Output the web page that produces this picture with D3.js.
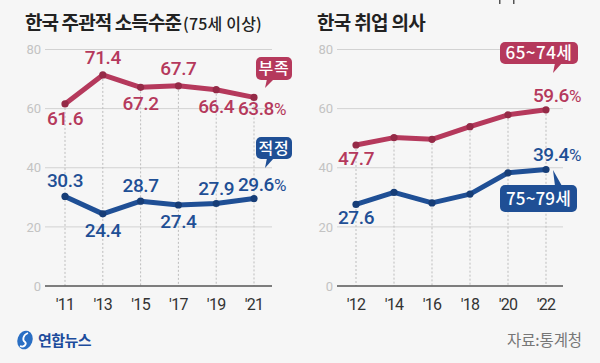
<!DOCTYPE html>
<html><head><meta charset="utf-8">
<script src="https://cdn.jsdelivr.net/npm/d3@7"></script>
<style>
html,body{margin:0;padding:0;background:#f6f6f6;}
svg{display:block;}
</style></head>
<body>
<script>
// ---- data ----
const yearsL = [2011, 2013, 2015, 2017, 2019, 2021];
const tickLabelsL = ["'11", "'13", "'15", "'17", "'19", "'21"];
const lackL = [61.6, 71.4, 67.2, 67.7, 66.4, 63.8];      // 부족
const properL = [30.3, 24.4, 28.7, 27.4, 27.9, 29.6];    // 적정

const yearsR = [2012, 2014, 2016, 2018, 2020, 2022];
const tickLabelsR = ["'12", "'14", "'16", "'18", "'20", "'22"];
const age6574 = [47.7, 50.2, 49.6, 53.9, 57.9, 59.6];
const age7579 = [27.6, 31.7, 28.1, 31.1, 38.3, 39.4];
const yTicks = [0, 20, 40, 60, 80];

const RED = "#b5395c", RED_D = "#952a47";
const BLUE = "#1f4f95", BLUE_D = "#163d77";
const W = 600, H = 363;

const svg = d3.select("body").append("svg").attr("width", W).attr("height", H);
svg.append("rect").attr("width", W).attr("height", H).attr("fill", "#f6f6f6");

const numFont = "Roboto, 'Noto Sans', sans-serif";
const korFont = "'Noto Sans CJK KR', 'Noto Sans', sans-serif";

// scale a text's font-size so that its rendered width matches a target width
function fit(sel, target) {
  const w = sel.node().getComputedTextLength();
  const fs = parseFloat(sel.attr("font-size"));
  if (w > 0) sel.attr("font-size", (fs * target / w).toFixed(2));
  return sel;
}
// keep the font-size, adjust letter-spacing to reach a target width
function fitSpacing(sel, target, minLs) {
  sel.attr("letter-spacing", 0);
  const w = sel.node().getComputedTextLength();
  const n = sel.text().length;
  let ls = (target - w) / n;
  if (ls < minLs) {
    sel.attr("letter-spacing", minLs);
    fit(sel, target);
  } else sel.attr("letter-spacing", ls.toFixed(2));
  return sel;
}

function panel(opt) {
  const x = d3.scaleLinear().domain(d3.extent(opt.years)).range(opt.xr);
  const y = d3.scaleLinear().domain([0, 80]).range([286, 49.5]);
  const g = svg.append("g");
  g.selectAll(".grid").data(yTicks.filter(d => d > 0)).join("line")
    .attr("x1", opt.gx[0]).attr("x2", opt.gx[1])
    .attr("y1", d => y(d)).attr("y2", d => y(d))
    .attr("stroke", "#d2d2d2").attr("stroke-width", 1);
  g.selectAll(".yt").data(yTicks).join("text")
    .attr("x", opt.gx[0] - 4).attr("y", d => y(d)).attr("dy", "0.36em")
    .attr("text-anchor", "end").attr("font-family", numFont).attr("font-size", 13)
    .attr("fill", "#c3c3c3").text(d => d);
  g.selectAll(".dv").data(opt.years).join("line")
    .attr("x1", d => x(d)).attr("x2", d => x(d))
    .attr("y1", (d, i) => y(opt.top[i]) + 4).attr("y2", y(0))
    .attr("stroke", "#bdbdbd").attr("stroke-width", 1).attr("stroke-dasharray", "2,2");
  g.append("line").attr("x1", opt.gx[0]).attr("x2", opt.gx[1])
    .attr("y1", y(0)).attr("y2", y(0)).attr("stroke", "#555").attr("stroke-width", 1.3);
  g.selectAll(".xt").data(opt.years).join("text")
    .attr("x", d => x(d)).attr("y", 310).attr("text-anchor", "middle")
    .attr("font-family", numFont).attr("font-size", 16).attr("letter-spacing", -0.7)
    .attr("fill", "#333").text((d, i) => opt.tickLabels[i]);
  const line = d3.line().x((d, i) => x(opt.years[i])).y(d => y(d));
  opt.series.forEach(s => {
    g.append("path").datum(s.values).attr("d", line).attr("fill", "none")
      .attr("stroke", s.color).attr("stroke-width", 5)
      .attr("stroke-linejoin", "round").attr("stroke-linecap", "round");
    g.selectAll(null).data(s.values).join("circle")
      .attr("cx", (d, i) => x(opt.years[i])).attr("cy", d => y(d)).attr("r", 3.6)
      .attr("fill", s.dark);
    const labelled = s.values.map((d, i) => ({ d, i })).filter(o => s.show.includes(o.i));
    g.selectAll(null).data(labelled).join("text")
      .attr("x", o => x(opt.years[o.i]) + s.dx[o.i])
      .attr("y", o => y(o.d) + s.off[o.i])
      .attr("text-anchor", "middle").attr("font-family", numFont)
      .attr("font-size", 19).attr("font-weight", 500).attr("letter-spacing", -0.4)
      .attr("fill", s.color)
      .each(function (o) {
        const t = d3.select(this);
        t.append("tspan").text(d3.format(".1f")(o.d));
        if (o.i === s.values.length - 1) t.append("tspan").attr("font-size", 17).attr("font-weight", 400).text("%");
      });
  });
  return { x, y, g };
}

panel({
  years: yearsL, tickLabels: tickLabelsL, xr: [65, 254], gx: [45, 272],
  top: lackL,
  series: [
    { values: lackL, color: RED, dark: RED_D, show: [0, 1, 2, 3, 4, 5], off: [21, -11, 23, -11, 23, 18], dx: [0, 0, 0, 0, 0, 8] },
    { values: properL, color: BLUE, dark: BLUE_D, show: [0, 1, 2, 3, 4, 5], off: [-9, 23, -9, 23, -9, -7], dx: [0, 0, 0, 0, 0, 8] }
  ]
});
panel({
  years: yearsR, tickLabels: tickLabelsR, xr: [356, 546], gx: [337, 563],
  top: age6574,
  series: [
    { values: age6574, color: RED, dark: RED_D, show: [0, 5], off: [20, 0, 0, 0, 0, -8], dx: [0, 0, 0, 0, 0, 11] },
    { values: age7579, color: BLUE, dark: BLUE_D, show: [0, 5], off: [20, 0, 0, 0, 0, -9], dx: [0, 0, 0, 0, 0, 11] }
  ]
});

// tags
function tag(x0, y0, w, h, px, tipY, color, label, fs, tw) {
  const g = svg.append("g");
  const down = tipY > y0;
  const baseY = down ? y0 + h - 1 : y0 + 1;
  g.append("path").attr("d", `M${px - 1},${baseY} L${px - 3},${tipY} L${px + 6},${baseY} Z`).attr("fill", color);
  g.append("rect").attr("x", x0).attr("y", y0).attr("width", w).attr("height", h)
    .attr("rx", 5).attr("fill", color);
  const t = g.append("text").attr("x", x0 + w / 2).attr("y", y0 + h / 2).attr("dy", "0.36em")
    .attr("text-anchor", "middle").attr("font-family", korFont).attr("font-size", fs)
    .attr("font-weight", 500).attr("fill", "#fff").text(label);
  fitSpacing(t, tw, -1.2);
}
tag(256, 57, 36, 23, 268, 88, RED, "부족", 16, 31);
tag(256, 137, 36, 22, 268, 168, BLUE, "적정", 16, 31);
tag(500, 42, 78, 22, 556, 73, RED, "65~74세", 17, 67);
tag(500, 185, 77, 27, 556, 170, BLUE, "75~79세", 17, 65);

// titles
const t1 = svg.append("text").attr("x", 25).attr("y", 30).attr("font-family", korFont).attr("fill", "#222")
  .attr("font-size", 19).attr("font-weight", 700).text("한국 주관적 소득수준");
fitSpacing(t1, 156, -1.4);
const t1b = svg.append("text").attr("x", 183).attr("y", 30).attr("font-family", korFont).attr("fill", "#222")
  .attr("font-size", 16).attr("font-weight", 500).text("(75세 이상)");
fitSpacing(t1b, 79, -1.2);
const t2 = svg.append("text").attr("x", 317).attr("y", 30).attr("font-family", korFont).attr("fill", "#222")
  .attr("font-size", 19).attr("font-weight", 700).text("한국 취업 의사");
fitSpacing(t2, 108, -1.4);

// tiny marks at top (cropped header remnants)
svg.append("rect").attr("x", 499).attr("y", 0).attr("width", 1.5).attr("height", 4).attr("fill", "#555");
svg.append("rect").attr("x", 513).attr("y", 0).attr("width", 1.5).attr("height", 4).attr("fill", "#555");

// footer
const logo = svg.append("g");
logo.append("ellipse").attr("cx", 25).attr("cy", 340).attr("rx", 7.5).attr("ry", 9.5)
  .attr("transform", "rotate(20,25,340)").attr("fill", "#2a6fc4");
logo.append("path").attr("d", "M28,333 C23,335 22,340 25,342 C27,344 24,348 20,346")
  .attr("fill", "none").attr("stroke", "#fff").attr("stroke-width", 1.8);
const lt = logo.append("text").attr("x", 38).attr("y", 346).attr("font-family", korFont)
  .attr("font-size", 15).attr("font-weight", 700)
  .attr("fill", "#1d4c9c").text("연합뉴스");
fitSpacing(lt, 53, -1.5);
const src = svg.append("text").attr("x", 582).attr("y", 346).attr("text-anchor", "end")
  .attr("font-family", korFont).attr("font-size", 15.5)
  .attr("fill", "#777").text("자료:통계청");
fitSpacing(src, 75, -1.2);
</script>
</body></html>
